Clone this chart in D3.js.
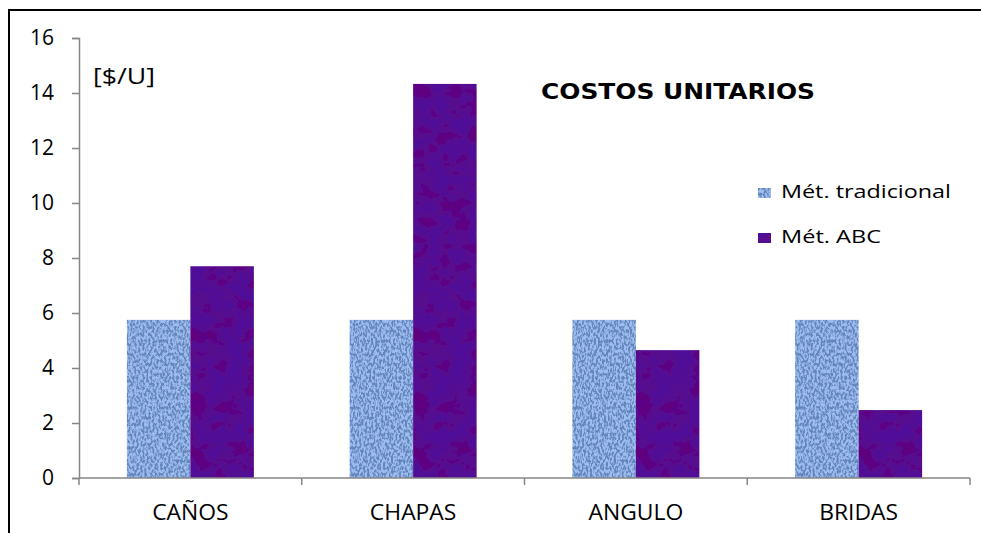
<!DOCTYPE html>
<html>
<head>
<meta charset="utf-8">
<script src="https://cdn.jsdelivr.net/npm/d3@7"></script>
<style>
  body { margin: 0; background: #fff; }
  text { font-family: "Open Sans", sans-serif; fill: #000; }
</style>
</head>
<body>
<div id="chart"></div>
<script>
// data
var categories = ["CAÑOS", "CHAPAS", "ANGULO", "BRIDAS"];
var seriesNames = ["Mét. tradicional", "Mét. ABC"];
var tradicional = [5.75, 5.75, 5.75, 5.75];
var abc = [7.7, 14.33, 4.65, 2.47];
var yTicks = [0, 2, 4, 6, 8, 10, 12, 14, 16];

var svgWidth = 981;
var svgHeight = 533;
var plot = { left: 79, right: 970, top: 38, bottom: 478 };

var svg = d3.select("#chart")
  .append("svg")
  .attr("width", svgWidth)
  .attr("height", svgHeight);

var defs = svg.append("defs");

// light blue woven texture
var f1 = defs.append("filter").attr("id", "weave")
  .attr("x", 0).attr("y", 0).attr("width", 1).attr("height", 1);
f1.append("feTurbulence").attr("type", "fractalNoise")
  .attr("baseFrequency", "0.5 0.3").attr("numOctaves", 2).attr("seed", 3).attr("result", "noise");
f1.append("feColorMatrix").attr("in", "noise").attr("type", "matrix")
  .attr("values", "0 0 0 0 0.12  0 0 0 0 0.24  0 0 0 0 0.5  0 0 0 -5 2.95")
  .attr("result", "spots");
f1.append("feComposite").attr("in", "spots").attr("in2", "SourceGraphic").attr("operator", "atop");

// purple mottled texture
var f2 = defs.append("filter").attr("id", "marble")
  .attr("x", 0).attr("y", 0).attr("width", 1).attr("height", 1);
f2.append("feTurbulence").attr("type", "fractalNoise")
  .attr("baseFrequency", "0.05 0.07").attr("numOctaves", 3).attr("seed", 7).attr("result", "noise");
f2.append("feColorMatrix").attr("in", "noise").attr("type", "matrix")
  .attr("values", "0 0 0 0 0.12  0 0 0 0 0.0  0 0 0 0 0.2  0 0 0 2.2 -0.8")
  .attr("result", "shade");
f2.append("feComposite").attr("in", "shade").attr("in2", "SourceGraphic").attr("operator", "atop");

var colors = ["#9dbcf0", "#500d98"];
var filters = ["url(#weave)", "url(#marble)"];

// frame
svg.append("rect")
  .attr("x", 9).attr("y", 10)
  .attr("width", 990).attr("height", 540)
  .attr("fill", "none").attr("stroke", "#000").attr("stroke-width", 2);

var x0 = d3.scaleBand()
  .domain(categories)
  .range([plot.left, plot.right])
  .paddingInner(0.43)
  .paddingOuter(0.215);

var x1 = d3.scaleBand()
  .domain([0, 1])
  .range([0, x0.bandwidth()]);

var y = d3.scaleLinear()
  .domain([0, 16])
  .range([plot.bottom, plot.top]);

// bars
var rows = categories.map(function(c, i) {
  return { cat: c, values: [tradicional[i], abc[i]] };
});

var groups = svg.selectAll("g.grp")
  .data(rows)
  .enter()
  .append("g")
  .attr("class", "grp")
  .attr("transform", d => `translate(${x0(d.cat)},0)`);

groups.selectAll("rect")
  .data(d => d.values.map((v, s) => ({ v: v, s: s })))
  .enter()
  .append("rect")
  .attr("x", d => x1(d.s))
  .attr("y", d => y(d.v))
  .attr("width", x1.bandwidth())
  .attr("height", d => y(0) - y(d.v))
  .attr("fill", d => colors[d.s])
  .attr("filter", d => filters[d.s]);

// y axis
var yAxis = svg.append("g")
  .attr("transform", `translate(${plot.left},0)`)
  .call(d3.axisLeft(y).tickValues(yTicks).tickSize(7).tickPadding(18));
yAxis.selectAll("path, line").attr("stroke", "#868686").attr("stroke-width", 1.5);
yAxis.selectAll("text").style("font-size", "21px").attr("fill", "#000");

// x axis with ticks at band edges
var xAxisG = svg.append("g").attr("transform", `translate(0,${plot.bottom})`);
xAxisG.append("line")
  .attr("x1", plot.left).attr("x2", plot.right)
  .attr("stroke", "#868686").attr("stroke-width", 1.5);
var edges = d3.range(categories.length + 1).map(i => plot.left + i * x0.step());
xAxisG.selectAll("line.tk")
  .data(edges)
  .enter()
  .append("line")
  .attr("class", "tk")
  .attr("x1", d => d).attr("x2", d => d)
  .attr("y1", 0).attr("y2", 7)
  .attr("stroke", "#868686").attr("stroke-width", 1.5);
xAxisG.selectAll("text")
  .data(categories)
  .enter()
  .append("text")
  .attr("transform", d => `translate(${x0(d) + x0.bandwidth() / 2},42) scale(1.09,1)`)
  .attr("text-anchor", "middle")
  .style("font-size", "21px")
  .text(d => d);

// unit label
svg.append("text")
  .attr("x", 93).attr("y", 84)
  .attr("textLength", 62)
  .attr("lengthAdjust", "spacingAndGlyphs")
  .style("font-size", "21px")
  .text("[$/U]");

// title
svg.append("text")
  .attr("x", 541).attr("y", 99)
  .attr("textLength", 274)
  .attr("lengthAdjust", "spacingAndGlyphs")
  .style("font-size", "22px")
  .style("font-weight", "bold")
  .style("font-family", "'DejaVu Sans', sans-serif")
  .text("COSTOS UNITARIOS");

// legend
var legendWidths = [170, 100];
var legend = svg.append("g");
seriesNames.forEach(function(name, i) {
  var base = 198 + i * 45;
  legend.append("rect")
    .attr("x", 758).attr("y", base - 10)
    .attr("width", 13).attr("height", 10)
    .attr("fill", colors[i])
    .attr("filter", filters[i]);
  legend.append("text")
    .attr("x", 781).attr("y", base)
    .attr("textLength", legendWidths[i])
    .attr("lengthAdjust", "spacingAndGlyphs")
    .style("font-size", "19px")
    .text(name);
});
</script>
</body>
</html>
